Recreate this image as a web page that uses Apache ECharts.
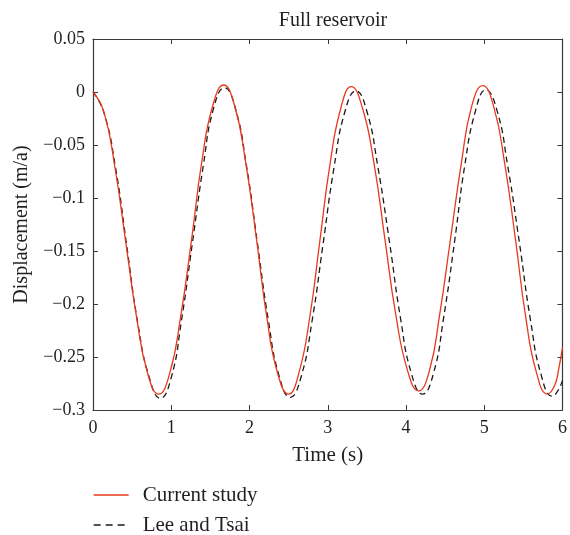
<!DOCTYPE html>
<html>
<head>
<meta charset="utf-8">
<script src="https://cdn.jsdelivr.net/npm/echarts@6/dist/echarts.min.js"></script>
<style>html,body{margin:0;padding:0;background:#fff;}#chart{width:570px;height:535px;}</style>
</head>
<body>
<div id="chart"></div>
<script>
var chartTitle = 'Full reservoir';
var xName = 'Time (s)';
var yName = 'Displacement (m/a)';
var seriesNames = ['Current study', 'Lee and Tsai'];
var xTickLabels = ['0', '1', '2', '3', '4', '5', '6'];
var yTickLabels = ['\u22120.3', '\u22120.25', '\u22120.2', '\u22120.15', '\u22120.1', '\u22120.05', '0', '0.05'];

var timeCurrent = [0, 0.14, 0.28, 0.42, 0.56, 0.70, 0.84,
  0.98, 1.12, 1.26, 1.39, 1.53, 1.67,
  1.81, 1.95, 2.09, 2.22, 2.36, 2.50,
  2.63, 2.77, 2.90, 3.03, 3.17, 3.30,
  3.44, 3.59, 3.73, 3.87, 4.02, 4.16,
  4.30, 4.43, 4.57, 4.71, 4.84, 4.98,
  5.12, 5.26, 5.40, 5.53, 5.67, 5.81,
  5.90, 5.95, 6.00];
var dispCurrent = [0, -0.019, -0.071, -0.1425, -0.214, -0.266, -0.285,
  -0.2655, -0.212, -0.139, -0.066, -0.013, 0.0066,
  -0.013, -0.066, -0.139, -0.212, -0.2655, -0.285,
  -0.2655, -0.2125, -0.140, -0.0675, -0.0144, 0.005,
  -0.0142, -0.0668, -0.1385, -0.2103, -0.2628, -0.282,
  -0.2627, -0.210, -0.138, -0.066, -0.0133, 0.006,
  -0.0135, -0.0668, -0.1395, -0.2123, -0.2655, -0.285,
  -0.2767, -0.262, -0.241];

var timeLee = [0, 0.14, 0.29, 0.43, 0.57, 0.72, 0.86,
  1.00, 1.13, 1.27, 1.41, 1.54, 1.68,
  1.82, 1.96, 2.10, 2.24, 2.38, 2.52,
  2.66, 2.80, 2.94, 3.08, 3.22, 3.36,
  3.50, 3.64, 3.79, 3.93, 4.07, 4.21,
  4.35, 4.48, 4.62, 4.75, 4.89, 5.02,
  5.16, 5.30, 5.45, 5.59, 5.73, 5.87,
  5.94, 6.00];
var dispLee = [0, -0.0194, -0.0723, -0.1445, -0.2168, -0.2696, -0.289,
  -0.2694, -0.2158, -0.1425, -0.0693, -0.0156, 0.004,
  -0.0156, -0.069, -0.142, -0.215, -0.2684, -0.288,
  -0.2686, -0.2158, -0.1435, -0.0713, -0.0184, 0.001,
  -0.0182, -0.0705, -0.142, -0.2135, -0.2658, -0.285,
  -0.2658, -0.2133, -0.1415, -0.0698, -0.0172, 0.002,
  -0.0166, -0.0698, -0.1425, -0.2148, -0.2676, -0.287,
  -0.282, -0.272];

function pairs(xs, ys) { return xs.map(function (x, i) { return [x, ys[i]]; }); }

var FONT = '"Liberation Serif", "DejaVu Serif", serif';
var TXT = '#231f20';
var AX = '#3a3a3a';
var RED = '#e8391d';
var BLK = '#1a1a1a';
var yMin = -0.3, yMax = 0.05, yStep = 0.05;

var chart = echarts.init(document.getElementById('chart'), null, {renderer: 'canvas'});

function baseX(show) {
  return {
    type: 'value', min: 0, max: 6, interval: 1,
    position: show ? 'bottom' : 'top',
    axisLine: {show: true, onZero: false, lineStyle: {color: AX, width: 1.2}},
    axisTick: {show: true, inside: true, length: 5, lineStyle: {color: AX, width: 1}},
    axisLabel: {show: show, margin: 9, fontFamily: FONT, fontSize: 18, color: TXT,
      formatter: function (v) { return xTickLabels[Math.round(v)]; }},
    splitLine: {show: false}
  };
}
function baseY(show) {
  return {
    type: 'value', min: yMin, max: yMax, interval: yStep,
    position: show ? 'left' : 'right',
    axisLine: {show: true, onZero: false, lineStyle: {color: AX, width: 1.2}},
    axisTick: {show: true, inside: true, length: 5, lineStyle: {color: AX, width: 1}},
    axisLabel: {show: show, margin: 8, fontFamily: FONT, fontSize: 18, color: TXT,
      formatter: function (v) { return yTickLabels[Math.round((v - yMin) / yStep)]; }},
    splitLine: {show: false}
  };
}

var xa = baseX(true);
xa.name = xName; xa.nameLocation = 'middle'; xa.nameGap = 35;
xa.nameTextStyle = {fontFamily: FONT, fontSize: 21, color: TXT};
var xb = baseX(false);
var ya = baseY(true);
ya.name = yName; ya.nameLocation = 'middle'; ya.nameGap = 61;
ya.nameTextStyle = {fontFamily: FONT, fontSize: 20, color: TXT};
var yb = baseY(false);

function legendFor(name, top, dash) {
  return {
    orient: 'vertical', left: 93, top: top, padding: 0,
    itemWidth: 35, itemHeight: 14,
    itemStyle: {opacity: 0},
    lineStyle: {width: 1.3, type: dash},
    textStyle: {fontFamily: FONT, fontSize: 21, lineHeight: 22, color: TXT, padding: [0, 0, 0, 9]},
    data: [name]
  };
}

chart.setOption({
  animation: false,
  backgroundColor: '#ffffff',
  title: {
    text: chartTitle, left: 328, top: 6, textAlign: 'center',
    textStyle: {fontFamily: FONT, fontSize: 20, fontWeight: 'normal', color: TXT}
  },
  grid: {left: 93, right: 7, top: 39, bottom: 125, containLabel: false},
  legend: [legendFor(seriesNames[0], 484, 'solid'), legendFor(seriesNames[1], 514, [7, 5])],
  xAxis: [xa, xb],
  yAxis: [ya, yb],
  series: [
    {
      name: seriesNames[1], type: 'line', xAxisIndex: 0, yAxisIndex: 0,
      data: pairs(timeLee, dispLee), smooth: 0.5, symbol: 'none', showSymbol: false,
      lineStyle: {color: BLK, width: 1.3, type: [6, 4]},
      itemStyle: {color: BLK}, z: 2
    },
    {
      name: seriesNames[0], type: 'line', xAxisIndex: 0, yAxisIndex: 0,
      data: pairs(timeCurrent, dispCurrent), smooth: 0.5, symbol: 'none', showSymbol: false,
      lineStyle: {color: RED, width: 1.3},
      itemStyle: {color: RED}, z: 3
    }
  ]
});
</script>
</body>
</html>
